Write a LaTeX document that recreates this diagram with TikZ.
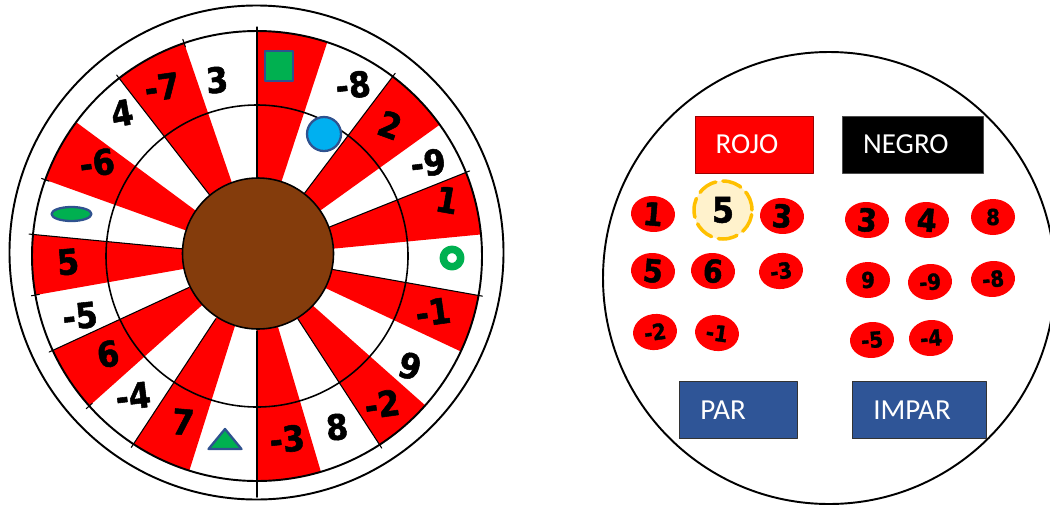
\documentclass[tikz,border=0pt]{standalone}
\usepackage{fontspec}
\setmainfont{Carlito}
\newfontfamily\numfont{DejaVu Sans Condensed}[BoldFeatures={FakeBold=1.5}]
\usetikzlibrary{shapes.geometric}
\definecolor{wheelred}{HTML}{FF0000}
\definecolor{hubbrown}{HTML}{843C0C}
\definecolor{okgreen}{HTML}{00B050}
\definecolor{skyblue}{HTML}{00B0F0}
\definecolor{edgeblue}{HTML}{2F528F}
\definecolor{parblue}{HTML}{2F5597}
\definecolor{cream}{HTML}{FFF2CC}
\definecolor{gold}{HTML}{FFC000}
\tikzset{
  wnum/.style={font=\numfont\bfseries\fontsize{20}{20}\selectfont,inner sep=0pt},
  chip/.style={ellipse,fill=wheelred,inner sep=0pt,minimum width=0.88cm,minimum height=0.72cm},
  bignum/.style={font=\numfont\bfseries\fontsize{18}{18}\selectfont},
  smallnum/.style={font=\numfont\bfseries\fontsize{12.5}{12.5}\selectfont},
  betbox/.style={rectangle,inner sep=0pt,minimum height=1.14cm,text=white,font=\fontsize{16.5}{16.5}\selectfont},
  shapeedge/.style={draw=edgeblue,line width=1.3pt},
  spoke/.style={line width=0.6pt}
}

\begin{document}
\begin{tikzpicture}[x=0.02cm,y=-0.02cm,line cap=round,line join=round]
  \useasboundingbox (0,0) rectangle (1050,504);
  % wheel
  \draw[line width=1.1pt] (256.5,252.5) circle[radius=247];
  \begin{scope}[shift={(257,256)},y=0.02cm]
    \def\Rs{225}
    \def\Ri{151}
    \foreach \a/\b in {90/71.8,52.9/35.7,21.8/5.5,-10.1/-25.1,-41.6/-57,-73.5/-90,-107.5/-123.3,-138.2/-155.2,-170/-185.5,160.2/143.5,127.8/108.9} {
      \fill[wheelred] (0,0) -- (\a:\Rs) arc[start angle=\a,end angle=\b,radius=\Rs] -- cycle;
    }
    \draw[line width=1.1pt] (0,0) circle[radius=\Rs];
    \draw[line width=0.9pt] (0,0) circle[radius=\Ri];
    \foreach \a in {90,52.9,21.8,127.8,174.5,-10.1,-57,-123.3,-155.2} {
      \draw[spoke] (\a:75) -- (\a:229);
    }
    \draw[line width=0.9pt] (-90:75) -- (-90:241);
    \foreach \a in {160.2,108.9,-170,-138.2} {
      \draw[spoke] (\a:221) -- (\a:229);
    }
  \end{scope}
  \draw[line width=0.9pt,fill=hubbrown] (258,253.5) circle[radius=75.5];
  % numbers on the wheel
  \foreach \x/\y/\t/\r [count=\i] in {217/80/3/5,162/87/-7/8,122/113/4/10,97/163/-6/8,
      68/262/5/5,80/316/-5/6,108/354/6/10,133/396/-4/7,183/422/7/-5,287/439/-3/6,
      337/427/8/5,382/404/-2/8,410/366/9/-15,433/312/-1/8,447/200/1/-10,428/163/-9/7,
      390/125/2/-20,353/85/-8/6} {
    \node[wnum,rotate=\r] (w\i) at (\x,\y) {\t};
  }
  % symbols on the wheel
  \draw[shapeedge,fill=okgreen] (265,51) rectangle (293,81);
  \draw[shapeedge,fill=skyblue] (324,134) circle[radius=17];
  \draw[shapeedge,fill=okgreen] (71.5,214) ellipse[x radius=20,y radius=7];
  \draw[shapeedge,fill=okgreen] (208.5,449) -- (241.5,449) -- (225,429) -- cycle;
  \draw[okgreen,line width=4.3pt] (452,258) circle[radius=8.7];
  % betting table
  \draw[line width=1.1pt] (829,278) circle[radius=226];
  \node[betbox,fill=wheelred,draw=wheelred!60!black,minimum width=2.36cm] (rojo) at (754,144.5) {ROJO\hspace*{8pt}};
  \node[betbox,fill=black,draw=black!70,minimum width=2.82cm] (negro) at (912.5,144.5) {NEGRO\hspace*{7.5pt}};
  \node[betbox,fill=parblue,draw=black!80,minimum width=2.36cm] (par) at (738,410) {PAR\hspace*{17pt}};
  \node[betbox,fill=parblue,draw=black!80,minimum width=2.68cm] (impar) at (919,410) {IMPAR\hspace*{8pt}};
  \foreach \x/\y/\t [count=\i] in {653/214/1,782/216/3,653/271/5,713/271/6,867/220/3,927/220/4} {
    \node[chip,bignum,rotate=-5] (cb\i) at (\x,\y) {\t};
  }
  \foreach \x/\y/\t/\r [count=\i] in {781/271/-3/8,655/332/-2/8,717/333/-1/-8,993/217/8/0,
      868/280/9/0,930/282/-9/5,993/279/-8/5,872/340/-5/5,931/338/-4/5} {
    \node[chip,smallnum,rotate=\r] (cs\i) at (\x,\y) {\t};
  }
  \node[circle,fill=cream,draw=gold,line width=2pt,dash pattern=on 11pt off 4pt,
    minimum size=1.16cm,inner sep=0pt,font=\numfont\bfseries\fontsize{20}{20}\selectfont] (pick) at (723,210) {5};
\end{tikzpicture}
\end{document}
